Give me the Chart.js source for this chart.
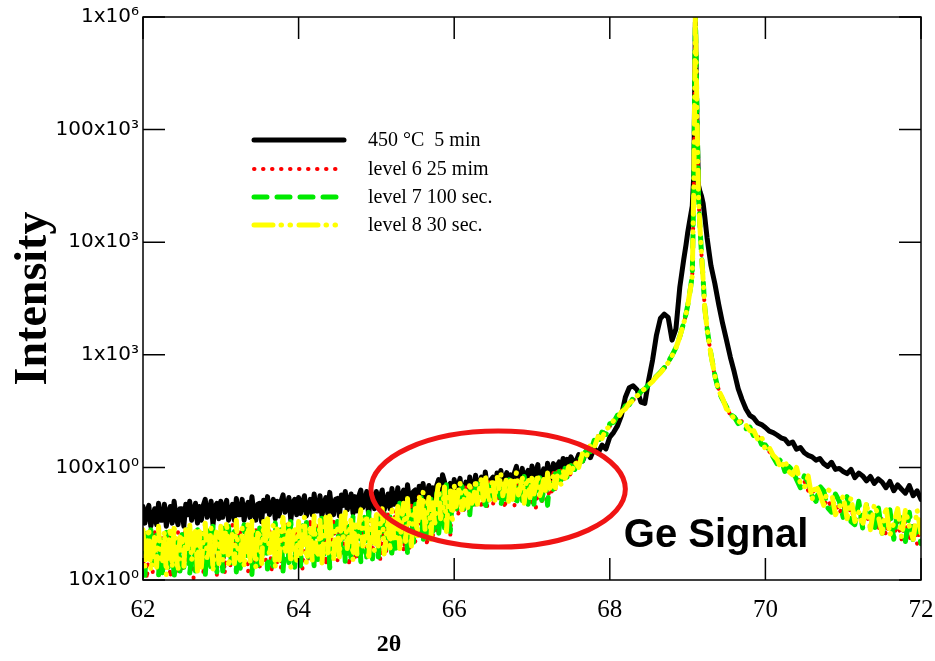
<!DOCTYPE html>
<html>
<head>
<meta charset="utf-8">
<script src="https://cdn.jsdelivr.net/npm/chart.js@4.4.0/dist/chart.umd.min.js"></script>
<style>
  body { margin: 0; background: #fff; }
  canvas { display: block; }
</style>
</head>
<body>
<canvas id="xrdChart" width="935" height="661"></canvas>
<script>
// 2 theta positions: 0.025 steps in the noisy part, 0.05 after, finer round the Ge peak
const theta = [
  62.000, 62.025, 62.050, 62.075, 62.100, 62.125, 62.150, 62.175, 62.200, 62.225,
  62.250, 62.275, 62.300, 62.325, 62.350, 62.375, 62.400, 62.425, 62.450, 62.475,
  62.500, 62.525, 62.550, 62.575, 62.600, 62.625, 62.650, 62.675, 62.700, 62.725,
  62.750, 62.775, 62.800, 62.825, 62.850, 62.875, 62.900, 62.925, 62.950, 62.975,
  63.000, 63.025, 63.050, 63.075, 63.100, 63.125, 63.150, 63.175, 63.200, 63.225,
  63.250, 63.275, 63.300, 63.325, 63.350, 63.375, 63.400, 63.425, 63.450, 63.475,
  63.500, 63.525, 63.550, 63.575, 63.600, 63.625, 63.650, 63.675, 63.700, 63.725,
  63.750, 63.775, 63.800, 63.825, 63.850, 63.875, 63.900, 63.925, 63.950, 63.975,
  64.000, 64.025, 64.050, 64.075, 64.100, 64.125, 64.150, 64.175, 64.200, 64.225,
  64.250, 64.275, 64.300, 64.325, 64.350, 64.375, 64.400, 64.425, 64.450, 64.475,
  64.500, 64.525, 64.550, 64.575, 64.600, 64.625, 64.650, 64.675, 64.700, 64.725,
  64.750, 64.775, 64.800, 64.825, 64.850, 64.875, 64.900, 64.925, 64.950, 64.975,
  65.000, 65.025, 65.050, 65.075, 65.100, 65.125, 65.150, 65.175, 65.200, 65.225,
  65.250, 65.275, 65.300, 65.325, 65.350, 65.375, 65.400, 65.425, 65.450, 65.475,
  65.500, 65.525, 65.550, 65.575, 65.600, 65.625, 65.650, 65.675, 65.700, 65.725,
  65.750, 65.775, 65.800, 65.825, 65.850, 65.875, 65.900, 65.925, 65.950, 65.975,
  66.000, 66.025, 66.050, 66.075, 66.100, 66.125, 66.150, 66.175, 66.200, 66.225,
  66.250, 66.275, 66.300, 66.325, 66.350, 66.375, 66.400, 66.425, 66.450, 66.475,
  66.500, 66.525, 66.550, 66.575, 66.600, 66.625, 66.650, 66.675, 66.700, 66.725,
  66.750, 66.775, 66.800, 66.825, 66.850, 66.875, 66.900, 66.925, 66.950, 66.975,
  67.000, 67.025, 67.050, 67.075, 67.100, 67.125, 67.150, 67.175, 67.200, 67.225,
  67.250, 67.275, 67.300, 67.325, 67.350, 67.375, 67.400, 67.425, 67.450, 67.475,
  67.50, 67.55, 67.60, 67.65, 67.70, 67.75, 67.80, 67.85, 67.90, 67.95,
  68.00, 68.05, 68.10, 68.15, 68.20, 68.25, 68.30, 68.35, 68.40, 68.45,
  68.50, 68.55, 68.60, 68.65, 68.70, 68.75, 68.80, 68.85, 68.90, 68.95,
  68.98, 69.00, 69.02, 69.04, 69.06, 69.08, 69.10, 69.12, 69.14, 69.16,
  69.18, 69.20, 69.22, 69.25, 69.30,
  69.35, 69.40, 69.45, 69.50, 69.55, 69.60, 69.65, 69.70, 69.75, 69.80,
  69.85, 69.90, 69.95, 70.00, 70.05, 70.10, 70.15, 70.20, 70.25, 70.30,
  70.35, 70.40, 70.45, 70.50, 70.55, 70.60, 70.65, 70.70, 70.75, 70.80,
  70.85, 70.90, 70.95, 71.00, 71.05, 71.10, 71.15, 71.20, 71.25, 71.30,
  71.35, 71.40, 71.45, 71.50, 71.55, 71.60, 71.65, 71.70, 71.75, 71.80,
  71.85, 71.90, 71.95, 72.00
]

// 450 oC 5 min
const anneal450 = [
  45, 32, 40, 46, 30, 36, 43, 31, 48, 34,
  34, 47, 30, 40, 45, 32, 50, 36, 31, 43,
  43, 30, 47, 38, 50, 34, 41, 48, 32, 45,
  34, 46, 52, 36, 40, 50, 31, 45, 48, 35,
  50, 36, 44, 51, 34, 40, 47, 34, 53, 38,
  38, 52, 34, 44, 49, 36, 55, 40, 34, 47,
  48, 33, 51, 41, 55, 38, 45, 52, 35, 50,
  37, 50, 57, 40, 44, 54, 34, 49, 52, 38,
  54, 39, 48, 56, 37, 44, 52, 38, 58, 41,
  41, 56, 37, 48, 54, 39, 60, 43, 38, 52,
  53, 37, 57, 46, 61, 42, 50, 58, 39, 55,
  41, 56, 63, 44, 49, 61, 38, 55, 58, 43,
  61, 44, 55, 63, 42, 49, 58, 43, 65, 47,
  48, 66, 43, 56, 63, 46, 70, 51, 44, 61,
  63, 44, 68, 55, 72, 50, 59, 69, 46, 66,
  51, 69, 78, 55, 86, 75, 47, 68, 72, 53,
  78, 56, 69, 80, 53, 63, 74, 54, 82, 59,
  62, 85, 55, 72, 82, 59, 91, 65, 57, 78,
  82, 57, 89, 71, 94, 65, 78, 90, 60, 86,
  66, 90, 102, 71, 79, 98, 62, 88, 94, 69,
  103, 74, 91, 106, 70, 83, 97, 71, 109, 78,
  92, 108, 86, 104, 112, 94, 120, 102, 118, 110,
  124, 106, 130, 114, 140, 122, 148, 134, 158, 146,
  186, 205, 235, 290, 420, 510, 530, 490, 380, 370,
  600, 900, 1500, 2100, 2300, 2150, 1350, 1700, 4000, 7000,
  9500, 12000, 14500, 17500, 21000, 40000, 900000, 120000, 32000, 28000,
  25500, 22000, 17000, 11000, 6200,
  4300, 2800, 1900, 1350, 950, 700, 500, 400, 330, 290,
  275, 248, 240, 226, 210, 204, 194, 183, 178, 162,
  168, 145, 150, 135, 128, 124, 116, 120, 108, 102,
  111, 96, 98, 92, 88, 96, 81, 89, 84, 76,
  83, 72, 79, 74, 66, 75, 62, 70, 64, 59,
  69, 56, 62, 52
]

// level 6 25 mim
const level6 = [
  12, 24, 10.2, 18, 26, 11.6, 28, 15, 10.9, 21,
  25, 11.9, 19, 26, 10.5, 14.5, 22, 11.2, 27, 13.3,
  11.9, 22, 29, 13.7, 17, 26, 10.4, 20, 25, 12.6,
  21, 11.3, 27, 17, 28, 13.3, 18, 26, 11, 24,
  13.7, 27, 11.4, 20, 29, 12.9, 31, 17, 12.2, 24,
  28, 13.3, 21, 29, 11.8, 16, 25, 12.5, 30, 14.8,
  13.2, 24, 32, 15, 18, 29, 11.6, 22, 28, 14,
  23, 12.6, 30, 19, 32, 14.8, 20, 28, 12.2, 27,
  15, 29, 12.6, 22, 32, 14.3, 35, 19, 13.4, 26,
  32, 15.4, 24, 34, 13.6, 19, 29, 14.5, 35, 17,
  15, 28, 37, 17.5, 21, 33, 13.3, 26, 32, 16,
  28, 15, 36, 23, 38, 18, 24, 34, 14.6, 32,
  18, 35, 15, 26, 38, 17, 41, 22, 16, 31,
  42, 20, 32, 45, 18, 25, 38, 19, 46, 23,
  22, 41, 55, 26, 31, 49, 20, 38, 47, 24,
  47, 26, 61, 39, 65, 30, 42, 58, 25, 55,
  41, 61, 37, 52, 64, 40, 68, 47, 39, 57,
  71, 46, 60, 74, 43, 52, 67, 44, 76, 49,
  47, 67, 80, 51, 57, 75, 43, 64, 73, 49,
  65, 46, 76, 58, 79, 50, 61, 74, 44, 71,
  49, 73, 44, 62, 76, 47, 81, 56, 46, 68,
  58, 90, 64, 92, 70, 96, 74, 86, 100, 80,
  90, 116, 106, 132, 128, 156, 150, 190, 186, 222,
  232, 258, 276, 312, 335, 372, 396, 432, 455, 502,
  538, 585, 635, 695, 755, 855, 975, 1150, 1440, 1890,
  2300, 2700, 3300, 4000, 5000, 30000, 1100000, 150000, 25000, 13000,
  7500, 4600, 2600, 1700, 1000,
  640, 490, 390, 350, 290, 285, 248, 258, 225, 228,
  198, 192, 168, 156, 138, 130, 116, 110, 98, 96,
  86, 88, 72, 76, 62, 66, 54, 58, 46, 52,
  44, 50, 39, 46, 36, 44, 33, 41, 30, 39,
  28, 37, 27, 36, 25, 35, 24, 33, 23, 34,
  22, 32, 21, 33
]

// level 7 100 sec.
const level7 = [
  20, 11, 26, 17, 28, 13, 18, 25, 10.7, 23,
  11.6, 21, 28, 13, 16, 25, 10.2, 20, 24, 12,
  27, 13, 20, 28, 11.4, 16, 24, 12, 29, 14,
  13, 26, 11, 19, 28, 12.5, 30, 17, 11.8, 23,
  22, 12, 29, 18, 30, 14, 20, 27, 11.8, 26,
  12.7, 23, 31, 15, 18, 28, 11.2, 22, 27, 13.5,
  29, 14, 22, 31, 12.5, 17, 26, 13.3, 32, 16,
  14.5, 28, 12, 21, 30, 14, 33, 18, 13, 25,
  24, 13.4, 31, 20, 33, 16, 22, 30, 13, 28,
  14.5, 26, 36, 17, 20, 32, 12.8, 25, 30, 15.4,
  33, 16, 25, 36, 14.3, 20, 30, 15, 37, 18,
  17, 34, 14.4, 25, 36, 16, 40, 22, 15.4, 30,
  30, 16, 38, 25, 41, 19, 26, 37, 16, 34,
  19, 35, 48, 22, 27, 43, 17, 33, 41, 21,
  51, 25, 39, 54, 22, 30, 46, 23, 56, 27,
  30, 59, 25, 44, 63, 29, 70, 38, 27, 53,
  56, 39, 65, 50, 68, 43, 52, 63, 38, 61,
  46, 66, 79, 50, 56, 74, 42, 63, 71, 48,
  77, 50, 65, 80, 46, 56, 72, 48, 82, 53,
  51, 75, 46, 63, 78, 49, 83, 58, 47, 70,
  67, 47, 78, 60, 81, 51, 62, 76, 46, 73,
  70, 64, 88, 72, 92, 76, 84, 98, 82, 94,
  104, 96, 124, 114, 148, 136, 174, 160, 206, 196,
  244, 252, 292, 300, 352, 360, 412, 420, 472, 496,
  545, 590, 645, 700, 770, 860, 990, 1160, 1460, 1920,
  2320, 2720, 3320, 4050, 5100, 31000, 1100000, 150000, 25500, 13200,
  7600, 4650, 2650, 1720, 1010,
  660, 470, 400, 345, 295, 280, 245, 255, 220, 228,
  190, 196, 160, 158, 140, 124, 108, 118, 92, 102,
  94, 78, 66, 84, 74, 56, 50, 68, 62, 44,
  40, 58, 50, 36, 55, 33, 31, 50, 29, 47,
  40, 27, 45, 26, 35, 42, 23, 41, 33, 22,
  40, 22, 30, 21
]

// level 8 30 sec.
const level8 = [
  28, 13, 21, 29, 12, 16, 25, 13, 30, 15,
  14, 27, 11, 20, 29, 13, 31, 17, 12, 24,
  23, 13, 30, 19, 32, 15, 20, 28, 12, 27,
  13, 24, 32, 15, 18, 29, 12, 22, 28, 14,
  30, 15, 23, 33, 13, 18, 27, 14, 34, 16,
  15, 29, 13, 22, 32, 14, 35, 19, 13, 26,
  25, 14, 33, 21, 35, 16, 22, 31, 13, 29,
  15, 26, 36, 17, 20, 32, 13, 25, 30, 15,
  33, 16, 25, 36, 14, 20, 30, 15, 37, 18,
  17, 34, 14, 25, 36, 16, 40, 22, 15, 30,
  29, 16, 37, 24, 40, 19, 26, 36, 15, 33,
  17, 31, 42, 20, 24, 38, 15, 29, 36, 18,
  41, 20, 31, 43, 17, 24, 36, 18, 45, 22,
  23, 45, 19, 34, 48, 22, 53, 29, 20, 40,
  44, 24, 56, 36, 60, 28, 39, 54, 23, 51,
  30, 55, 75, 35, 42, 67, 27, 52, 63, 32,
  70, 45, 59, 73, 42, 51, 66, 44, 74, 48,
  52, 78, 47, 66, 81, 51, 86, 60, 49, 73,
  73, 51, 84, 65, 88, 56, 68, 82, 50, 80,
  52, 75, 90, 57, 64, 84, 48, 72, 81, 54,
  84, 58, 71, 87, 56, 64, 78, 60, 89, 66,
  62, 86, 66, 84, 78, 70, 95, 80, 88, 104,
  86, 112, 100, 134, 124, 160, 150, 188, 180, 220,
  228, 262, 272, 312, 330, 372, 392, 432, 452, 508,
  540, 580, 640, 690, 760, 850, 980, 1150, 1450, 1900,
  2300, 2700, 3300, 4000, 5000, 30000, 1100000, 150000, 25000, 13000,
  7500, 4600, 2600, 1700, 1000,
  650, 480, 410, 330, 310, 265, 262, 238, 238, 212,
  212, 178, 190, 142, 150, 128, 118, 98, 116, 92,
  86, 100, 72, 66, 84, 52, 70, 58, 46, 64,
  60, 38, 44, 56, 35, 54, 33, 40, 30, 49,
  28, 47, 37, 26, 45, 25, 32, 43, 24, 42,
  30, 23, 42, 26
]

const seriesNames = ['450 °C  5 min', 'level 6 25 mim', 'level 7 100 sec.', 'level 8 30 sec.']
const xTicks = [62, 64, 66, 68, 70, 72]
const yTicks = [10, 100, 1000, 10000, 100000, 1000000]
const yTickLabels = ['10x10⁰', '100x10⁰', '1x10³', '10x10³', '100x10³', '1x10⁶']

function toPoints(values) {
  return theta.map((t, i) => ({ x: t, y: values[i] }))
}

// legend, ellipse, "Ge Signal", frame with inward ticks, axis titles
const decorations = {
  id: 'decorations',
  afterDatasetsDraw(chart) {
    const ctx = chart.ctx
    const a = chart.chartArea
    const x = chart.scales.x
    const y = chart.scales.y
    ctx.save()

    // red ellipse round the Ge signal region
    const l = x.getPixelForValue(64.93)
    const r = x.getPixelForValue(68.2)
    const t = y.getPixelForValue(210)
    const b = y.getPixelForValue(19.6)
    ctx.strokeStyle = '#f01414'
    ctx.lineWidth = 5
    ctx.setLineDash([])
    ctx.beginPath()
    ctx.ellipse((l + r) / 2, (t + b) / 2, (r - l) / 2, (b - t) / 2, 0, 0, Math.PI * 2)
    ctx.stroke()

    ctx.fillStyle = '#000'
    ctx.font = 'bold 40px "Liberation Sans", Arial, sans-serif'
    ctx.textBaseline = 'alphabetic'
    ctx.textAlign = 'left'
    ctx.fillText('Ge Signal', x.getPixelForValue(68.18), y.getPixelForValue(19.6))

    // legend
    const rows = [123, 152, 180, 208]
    chart.data.datasets.forEach((ds, i) => {
      const ly = a.top + rows[i]
      ctx.strokeStyle = ds.borderColor
      ctx.lineWidth = ds.borderWidth
      ctx.lineCap = ds.borderCapStyle || 'butt'
      ctx.setLineDash(ds.borderDash || [])
      ctx.beginPath()
      ctx.moveTo(a.left + 111, ly)
      ctx.lineTo(a.left + 201, ly)
      ctx.stroke()
      ctx.fillStyle = '#000'
      ctx.font = '20px "Liberation Serif", "Times New Roman", serif'
      ctx.textBaseline = 'middle'
      ctx.fillText(ds.label, a.left + 225, ly + 1)
    })
    ctx.restore()
  },
  afterDraw(chart) {
    const ctx = chart.ctx
    const a = chart.chartArea
    const x = chart.scales.x
    const y = chart.scales.y
    const tick = 22
    ctx.save()
    ctx.strokeStyle = '#000'
    ctx.lineWidth = 1.5
    ctx.setLineDash([])
    ctx.strokeRect(a.left, a.top, a.right - a.left, a.bottom - a.top)
    ctx.beginPath()
    xTicks.forEach((v) => {
      const px = x.getPixelForValue(v)
      ctx.moveTo(px, a.bottom); ctx.lineTo(px, a.bottom - tick)
      ctx.moveTo(px, a.top); ctx.lineTo(px, a.top + tick)
    })
    yTicks.forEach((v) => {
      const py = y.getPixelForValue(v)
      ctx.moveTo(a.left, py); ctx.lineTo(a.left + tick, py)
      ctx.moveTo(a.right, py); ctx.lineTo(a.right - tick, py)
    })
    ctx.stroke()

    ctx.fillStyle = '#000'
    ctx.textAlign = 'center'
    ctx.textBaseline = 'middle'
    ctx.font = 'bold 24px "Liberation Serif", "Times New Roman", serif'
    ctx.fillText('2θ', 389, 645)
    ctx.translate(34, (a.top + a.bottom) / 2)
    ctx.rotate(-Math.PI / 2)
    ctx.font = 'bold 46px "Liberation Serif", "Times New Roman", serif'
    ctx.fillText('Intensity', 0, 0)
    ctx.restore()
  }
}

new Chart(document.getElementById('xrdChart'), {
  type: 'line',
  data: {
    datasets: [
      {
        label: seriesNames[0],
        data: toPoints(anneal450),
        borderColor: '#000000',
        borderWidth: 5,
        borderCapStyle: 'round',
        order: 4,
      },
      {
        label: seriesNames[1],
        data: toPoints(level6),
        borderColor: '#ff0000',
        borderWidth: 4,
        borderDash: [0.5, 8.5],
        borderCapStyle: 'round',
        order: 3,
      },
      {
        label: seriesNames[2],
        data: toPoints(level7),
        borderColor: '#00ea00',
        borderWidth: 5,
        borderDash: [13, 10],
        borderCapStyle: 'round',
        order: 2,
      },
      {
        label: seriesNames[3],
        data: toPoints(level8),
        borderColor: '#ffff00',
        borderWidth: 5,
        borderDash: [19, 8, 0.5, 8.5, 0.5, 8.5],
        borderCapStyle: 'round',
        order: 1,
      },
    ],
  },
  options: {
    responsive: false,
    animation: false,
    devicePixelRatio: 1,
    layout: { padding: { top: 17, right: 14, left: 0, bottom: 0 } },
    elements: { point: { radius: 0 }, line: { tension: 0, borderJoinStyle: 'round' } },
    plugins: { legend: { display: false }, tooltip: { enabled: false } },
    scales: {
      x: {
        type: 'linear',
        min: 62,
        max: 72,
        grid: { display: false, drawTicks: false },
        border: { display: false },
        afterBuildTicks: (scale) => {
          scale.ticks = xTicks.map((v) => ({ value: v }))
        },
        afterFit: (scale) => {
          scale.height = 81
          scale.paddingLeft = 0
          scale.paddingRight = 0
        },
        ticks: {
          color: '#000',
          padding: 15,
          maxRotation: 0,
          font: { family: '"Liberation Serif", "Times New Roman", serif', size: 25 },
        },
      },
      y: {
        type: 'logarithmic',
        min: 10,
        max: 1000000,
        grid: { display: false, drawTicks: false },
        border: { display: false },
        afterBuildTicks: (scale) => {
          scale.ticks = yTicks.map((v) => ({ value: v }))
        },
        afterFit: (scale) => {
          scale.width = 143
          scale.paddingTop = 0
          scale.paddingBottom = 0
        },
        ticks: {
          color: '#000',
          padding: 4,
          font: { family: '"DejaVu Sans", sans-serif', size: 20 },
          callback: (value) => yTickLabels[yTicks.indexOf(value)],
        },
      },
    },
  },
  plugins: [decorations],
})
</script>
</body>
</html>
